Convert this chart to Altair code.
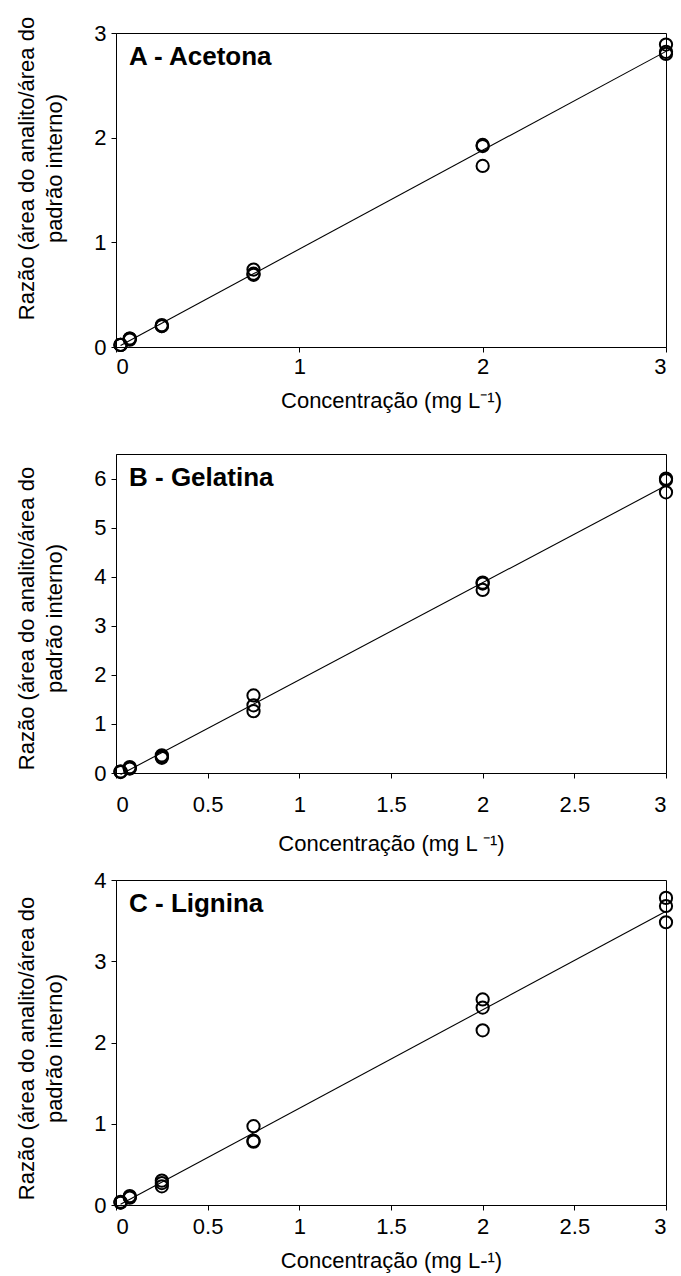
import altair as alt
import pandas as pd

# Calibration standards (mg L-1), three replicate injections each
conc = [0.025, 0.075, 0.25, 0.75, 2.0, 3.0]

acetona = [
    [0.02, 0.02, 0.02],
    [0.08, 0.08, 0.07],
    [0.20, 0.21, 0.20],
    [0.74, 0.70, 0.69],
    [1.93, 1.92, 1.73],
    [2.89, 2.82, 2.80],
]
gelatina = [
    [0.03, 0.02, 0.03],
    [0.10, 0.12, 0.09],
    [0.36, 0.33, 0.31],
    [1.58, 1.38, 1.26],
    [3.88, 3.86, 3.73],
    [6.00, 5.97, 5.72],
]
lignina = [
    [0.04, 0.03, 0.03],
    [0.11, 0.10, 0.09],
    [0.30, 0.27, 0.23],
    [0.97, 0.79, 0.78],
    [2.53, 2.43, 2.15],
    [3.78, 3.68, 3.48],
]

panel_titles = ["A - Acetona", "B - Gelatina", "C - Lignina"]
x_titles = [
    "Concentração (mg L⁻¹)",
    "Concentração (mg L ⁻¹)",
    "Concentração (mg L-¹)",
]
y_title = ["Razão (área do analito/área do", "padrão interno)"]

FONT = "Liberation Sans"


def table(reps):
    rows = []
    for c, vals in zip(conc, reps):
        for v in vals:
            rows.append({"conc": c, "ratio": v})
    return pd.DataFrame(rows)


def panel(reps, label, xtitle, ymax, yticks, xticks, height,
          label_pad, title_pad, title_y):
    df = table(reps)
    xscale = alt.Scale(domain=[0, 3], nice=False)
    yscale = alt.Scale(domain=[0, ymax], nice=False)
    xaxis = alt.Axis(
        values=xticks, format="~g", title=xtitle, labelPadding=label_pad,
        titlePadding=title_pad, grid=False,
    )
    yaxis = alt.Axis(
        values=yticks, format="~g", title=y_title, grid=False,
        titleY=title_y, titleLineHeight=28, labelPadding=5, titlePadding=27,
    )
    base = alt.Chart(df)
    pts = base.mark_point(
        shape="circle", filled=False, color="black", size=150,
        strokeWidth=2, opacity=1, clip=False,
    ).encode(
        x=alt.X("conc:Q", scale=xscale, axis=xaxis),
        y=alt.Y("ratio:Q", scale=yscale, axis=yaxis),
    )
    fit = base.transform_regression("conc", "ratio").mark_line(
        color="black", strokeWidth=1.1
    ).encode(
        x=alt.X("conc:Q", scale=xscale),
        y=alt.Y("ratio:Q", scale=yscale),
    )
    tag = alt.Chart(pd.DataFrame({"t": [label]})).mark_text(
        align="left", baseline="middle", font=FONT, fontSize=26,
        fontWeight="bold", color="black",
    ).encode(text="t:N", x=alt.value(13), y=alt.value(24))
    return alt.layer(fit, pts, tag).properties(width=550, height=height)


pa = panel(acetona, panel_titles[0], x_titles[0], 3, [0, 1, 2, 3],
           [0, 1, 2, 3], 314, 4, 13, 135)
pb = panel(gelatina, panel_titles[1], x_titles[1], 6.5, [0, 1, 2, 3, 4, 5, 6],
           [0, 0.5, 1, 1.5, 2, 2.5, 3], 319, 16, 18, 164)
pc = panel(lignina, panel_titles[2], x_titles[2], 4, [0, 1, 2, 3, 4],
           [0, 0.5, 1, 1.5, 2, 2.5, 3], 325, 6, 13, 168)

chart = alt.vconcat(pa, pb, pc, spacing=107, bounds="flush").properties(
    padding={"left": 15, "top": 15, "right": 2, "bottom": 2},
    background="white",
).configure_view(
    stroke="black", strokeWidth=1
).configure_axis(
    labelFont=FONT, titleFont=FONT, labelFontSize=22, titleFontSize=22,
    titleFontWeight="normal", labelColor="black", titleColor="black",
    domainColor="black", tickColor="black", tickSize=5, domainWidth=1,
    tickWidth=1,
)

chart.save("out.html", embed_options={"renderer": "svg", "actions": False})
